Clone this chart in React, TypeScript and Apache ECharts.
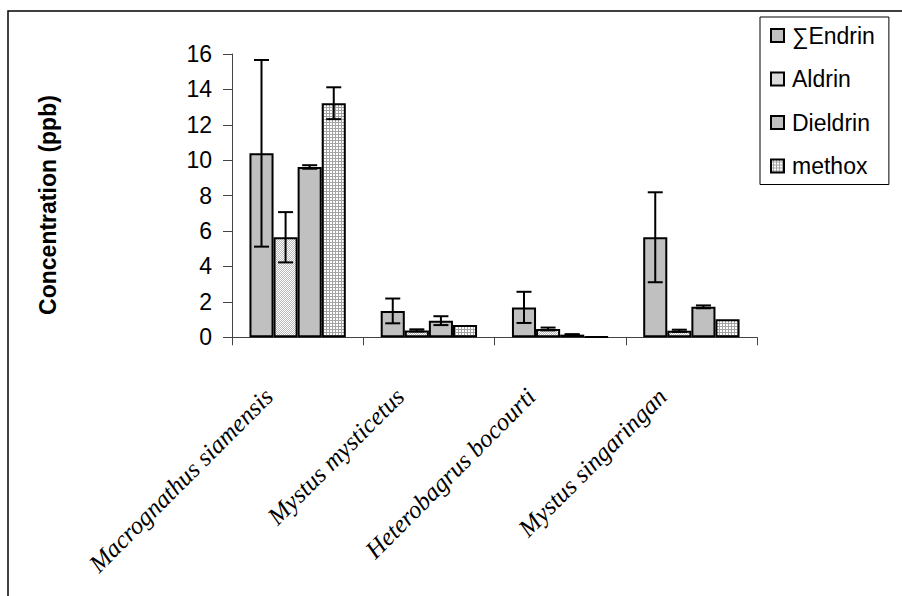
import React, { useEffect, useRef } from "react";
import * as echarts from "echarts";

// Fish species sampled
const categories = [
  "Macrognathus siamensis",
  "Mystus mysticetus",
  "Heterobagrus bocourti",
  "Mystus singaringan",
];

const seriesNames = ["∑Endrin", "Aldrin", "Dieldrin", "methox"];

// Mean concentrations (ppb) and their error margins
const endrinMean = [10.39, 1.49, 1.69, 5.65];
const endrinErr = [5.27, 0.7, 0.88, 2.54];
const aldrinMean = [5.65, 0.39, 0.47, 0.37];
const aldrinErr = [1.42, 0.06, 0.08, 0.06];
const dieldrinMean = [9.62, 0.94, 0.15, 1.72];
const dieldrinErr = [0.1, 0.25, 0.03, 0.08];
const methoxMean = [13.22, 0.69, 0.02, 1.02];
const methoxErr = [0.9, 0, 0, 0];

const yTicks = { min: 0, max: 16, interval: 2 };

const CATEGORY_GAP = 0.266;
const SANS = "'Liberation Sans', Arial, sans-serif";
const SERIF = "'Liberation Serif', 'Times New Roman', serif";

const means = [endrinMean, aldrinMean, dieldrinMean, methoxMean];
const errs = [endrinErr, aldrinErr, dieldrinErr, methoxErr];

// Small repeating tile: gray background with white pixels at the given cells
function makeTile(size: number, gray: string, whiteCells: number[][]) {
  const c = document.createElement("canvas");
  c.width = size;
  c.height = size;
  const ctx = c.getContext("2d")!;
  ctx.fillStyle = gray;
  ctx.fillRect(0, 0, size, size);
  ctx.fillStyle = "#ffffff";
  whiteCells.forEach(([x, y]) => ctx.fillRect(x, y, 1, 1));
  return c;
}

function errorBarSeries(k: number) {
  const data = categories
    .map((_, i) => [i, means[k][i] - errs[k][i], means[k][i] + errs[k][i], errs[k][i]])
    .filter((d) => d[3] > 0);
  return {
    type: "custom",
    name: seriesNames[k] + " error",
    z: 5,
    silent: true,
    data,
    encode: { x: 0, y: [1, 2] },
    renderItem: (params: any, api: any) => {
      const cat = api.value(0);
      const lo = api.coord([cat, api.value(1)]);
      const hi = api.coord([cat, api.value(2)]);
      const band = api.size([1, 0])[0];
      const bw = (band * (1 - CATEGORY_GAP)) / 4;
      const x = lo[0] + (k - 1.5) * bw;
      const cap = 7.5;
      const style = { stroke: "#000", lineWidth: 2 };
      return {
        type: "group",
        children: [
          { type: "line", shape: { x1: x, y1: lo[1], x2: x, y2: hi[1] }, style },
          { type: "line", shape: { x1: x - cap, y1: hi[1], x2: x + cap, y2: hi[1] }, style },
          { type: "line", shape: { x1: x - cap, y1: lo[1], x2: x + cap, y2: lo[1] }, style },
        ],
      };
    },
  };
}

export default function App() {
  const ref = useRef<HTMLDivElement>(null);

  useEffect(() => {
    if (!ref.current) return;
    const chart = echarts.init(ref.current, undefined, { renderer: "svg" });

    const checker = makeTile(2, "#b8b8b8", [[0, 0], [1, 1]]);
    const grid = makeTile(3, "#a4a4a4", [[0, 0], [1, 0], [0, 1], [1, 1]]);
    const fills = [
      "#c0c0c0",
      { image: checker, repeat: "repeat" },
      "#c0c0c0",
      { image: grid, repeat: "repeat" },
    ];

    const barSeries = seriesNames.map((name, k) => ({
      type: "bar",
      name,
      data: means[k],
      barGap: "0%",
      barCategoryGap: CATEGORY_GAP * 100 + "%",
      itemStyle: { color: fills[k], borderColor: "#000", borderWidth: 2 },
      emphasis: { disabled: true },
    }));

    chart.setOption({
      animation: false,
      backgroundColor: "#ffffff",
      grid: {
        left: 232,
        right: 145,
        top: 54,
        bottom: 258.7,
        containLabel: false,
        outerBoundsMode: "none",
      },
      legend: {
        data: seriesNames,
        orient: "vertical",
        left: 760,
        top: 17,
        padding: [7, 14, 7, 10],
        itemWidth: 13,
        itemHeight: 13,
        itemGap: 20.5,
        icon: "rect",
        borderColor: "#000",
        borderWidth: 1,
        borderRadius: 0,
        backgroundColor: "#fff",
        textStyle: {
          fontFamily: SANS,
          fontSize: 23,
          lineHeight: 23,
          color: "#000",
          padding: [0, 0, 0, 3],
        },
      },
      xAxis: {
        type: "category",
        data: categories,
        axisLine: { lineStyle: { color: "#444", width: 1 } },
        axisTick: { show: true, length: 8, lineStyle: { color: "#444" } },
        axisLabel: {
          interval: 0,
          rotate: 45,
          margin: 26,
          padding: [0, 41, 0, 0],
          fontFamily: SERIF,
          fontStyle: "italic",
          fontSize: 25,
          color: "#000",
        },
      },
      yAxis: {
        type: "value",
        min: yTicks.min,
        max: yTicks.max,
        interval: yTicks.interval,
        axisLine: { show: true, lineStyle: { color: "#444", width: 1 } },
        axisTick: { show: true, length: 9, lineStyle: { color: "#444" } },
        splitLine: { show: false },
        axisLabel: {
          margin: 20,
          fontFamily: SANS,
          fontSize: 23,
          color: "#000",
        },
      },
      graphic: [
        {
          type: "rect",
          shape: { x: 8, y: 11, width: 1000, height: 1000 },
          style: { fill: "none", stroke: "#000", lineWidth: 1.5 },
          silent: true,
        },
        {
          type: "text",
          x: 48,
          y: 205,
          rotation: Math.PI / 2,
          style: {
            text: "Concentration (ppb)",
            fontFamily: SANS,
            fontWeight: "bold",
            fontSize: 23,
            fill: "#000",
            align: "center",
            verticalAlign: "middle",
          },
          silent: true,
        },
      ],
      series: [...barSeries, ...seriesNames.map((_, k) => errorBarSeries(k))],
    });

    return () => chart.dispose();
  }, []);

  return (
    <div
      ref={ref}
      style={{ position: "fixed", left: 0, top: 0, width: 902, height: 596 }}
    />
  );
}
